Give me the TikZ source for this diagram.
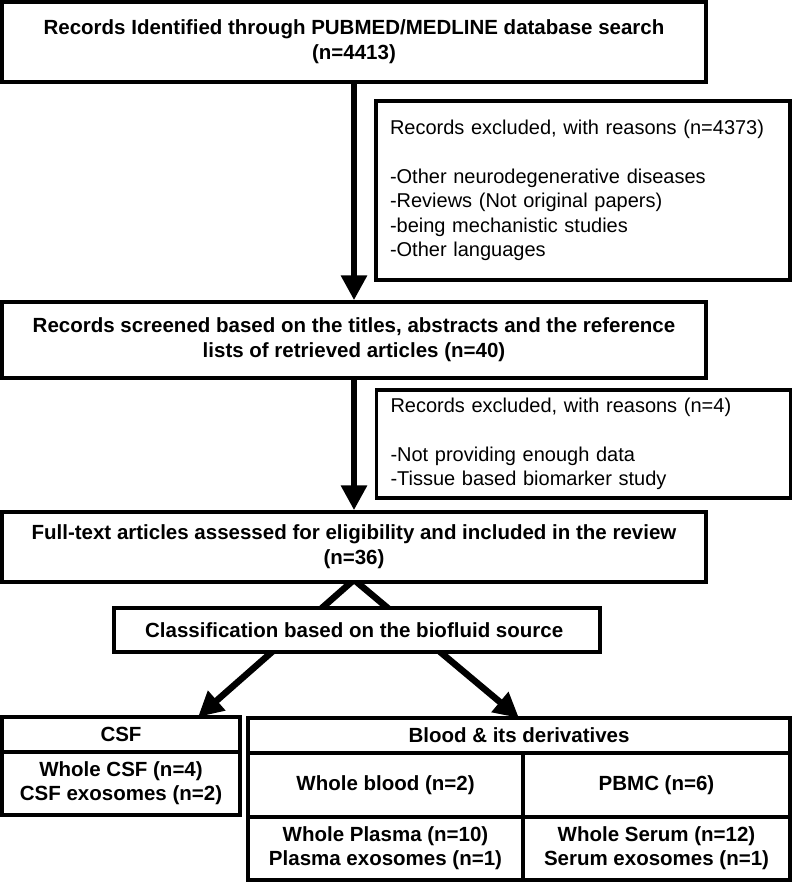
\documentclass[tikz,border=0pt]{standalone}
\usepackage{fontspec}
\setmainfont{Liberation Sans}
\usetikzlibrary{arrows.meta,positioning,calc,backgrounds}

\begin{document}
\begin{tikzpicture}[x=1pt, y=-1pt,
    mainbox/.style={rectangle, draw, line width=3.5pt, fill=white, minimum width=704pt, align=center, inner sep=0pt, font=\bfseries\fontsize{20.5}{25}\selectfont},
    exclbox/.style={rectangle, draw, line width=3.5pt, fill=white, minimum width=414pt, text width=386pt, inner xsep=14pt, align=left, font=\fontsize{20}{24.5}\selectfont},
    cell/.style={rectangle, draw, line width=3.5pt, fill=white, align=center, inner sep=0pt, outer sep=0pt, font=\bfseries\fontsize{20.5}{24}\selectfont},
    flow/.style={line width=6.5pt, -{Triangle[length=25pt, width=25pt]}},
]
    \useasboundingbox (0,0) rectangle (794,882);

    \node[mainbox, minimum height=80pt] (ident) at (354,42) {
        Records Identified through PUBMED/MEDLINE database search\\
        (n=4413)
    };

    \node[exclbox, minimum height=179pt] (excla) at (583,190.5) {
        Records excluded, with reasons (n=4373)\\[24.5pt]
        -Other neurodegenerative diseases\\
        -Reviews (Not original papers)\\
        -being mechanistic studies\\
        -Other languages
    };

    \node[mainbox, minimum height=76pt] (screen) at (354,340) {
        Records screened based on the titles, abstracts and the reference\\
        lists of retrieved articles (n=40)
    };

    \node[exclbox, minimum height=108pt] (exclb) at (583.5,444) {
        Records excluded, with reasons (n=4)\\[24.5pt]
        -Not providing enough data\\
        -Tissue based biomarker study
    };

    \node[mainbox, minimum height=70pt] (full) at (354,547) {
        Full-text articles assessed for eligibility and included in the review\\
        (n=36)
    };

    \node[mainbox, minimum width=486pt, minimum height=44pt] (class) at (357,630) {
        Classification based on the biofluid source
    };

    % CSF table
    \node[cell, minimum width=238pt, minimum height=35pt] (csf) at (121,734.5) {CSF};
    \node[cell, minimum width=238pt, minimum height=63pt, below=0pt of csf] (csfsub) {
        Whole CSF (n=4)\\
        CSF exosomes (n=2)
    };

    % blood table
    \node[cell, minimum width=542pt, minimum height=35pt] (blood) at (519,735.5) {Blood \& its derivatives};
    \node[cell, minimum width=275pt, minimum height=64pt, anchor=north west] (wblood) at (blood.south west) {Whole blood (n=2)};
    \node[cell, minimum width=267pt, minimum height=64pt, anchor=north west] (pbmc) at (wblood.north east) {PBMC (n=6)};
    \node[cell, minimum width=275pt, minimum height=63pt, anchor=north west] (plasma) at (wblood.south west) {
        Whole Plasma (n=10)\\
        Plasma exosomes (n=1)
    };
    \node[cell, minimum width=267pt, minimum height=63pt, anchor=north west] (serum) at (plasma.north east) {
        Whole Serum (n=12)\\
        Serum exosomes (n=1)
    };

    \draw[flow] (ident) -- (screen);
    \draw[flow] (screen) -- (full);

    \begin{scope}[on background layer]
        \draw[flow] ($(full.south)+(0,-4)$) -- ($(csf.north east)+(-42,0)$);
        \draw[flow] ($(full.south)+(0,-4)$) -- (blood.north);
    \end{scope}
\end{tikzpicture}
\end{document}
